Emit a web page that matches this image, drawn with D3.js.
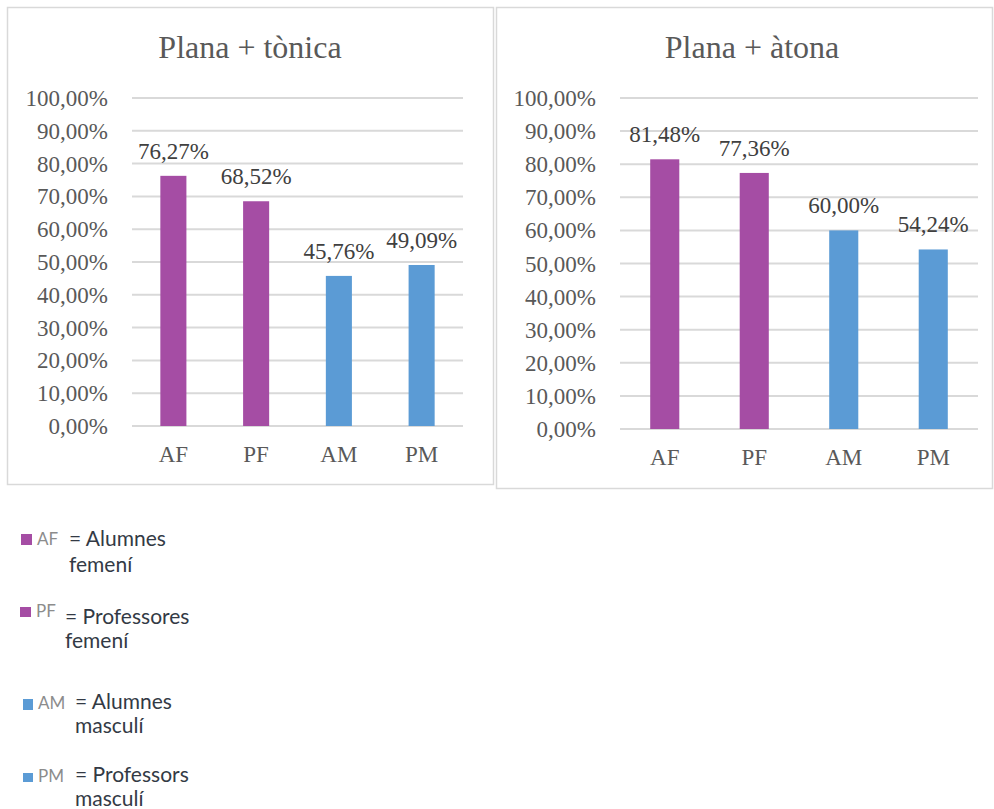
<!DOCTYPE html>
<html>
<head>
<meta charset="utf-8">
<script src="https://cdn.jsdelivr.net/npm/d3@7"></script>
<style>
  html, body { margin: 0; padding: 0; background: #ffffff; }
  svg { display: block; }
</style>
</head>
<body>
<svg id="chart" width="994" height="809"></svg>
<script>
// ---- Data ----
const categories = ["AF", "PF", "AM", "PM"];
const tonicaValues = [0.7627, 0.6852, 0.4576, 0.4909];
const atonaValues = [0.8148, 0.7736, 0.6000, 0.5424];
const panelTitles = ["Plana + tònica", "Plana + àtona"];
const yTicks = [0, 0.1, 0.2, 0.3, 0.4, 0.5, 0.6, 0.7, 0.8, 0.9, 1.0];
const legendCodes = ["AF", "PF", "AM", "PM"];
const legendLine1 = ["= Alumnes", "= Professores", "= Alumnes", "= Professors"];
const legendLine2 = ["femení", "femení", "masculí", "masculí"];

// ---- Styles ----
const colorFor = { AF: "#A54DA4", PF: "#A54DA4", AM: "#5B9BD5", PM: "#5B9BD5" };
const SERIF = "Liberation Serif";
const SANS = "Lato";
const locale = d3.formatLocale({ decimal: ",", thousands: ".", grouping: [3], currency: ["", "€"], percent: "%" });
const pct = locale.format(".2%");

const svg = d3.select("#chart");

function drawPanel(cfg, title, values) {
  const g = svg.append("g");
  g.append("rect")
    .attr("x", cfg.bx).attr("y", cfg.by).attr("width", cfg.bw).attr("height", cfg.bh)
    .attr("fill", "#fff").attr("stroke", "#D9D9D9").attr("stroke-width", 1.5);

  const x = d3.scaleBand().domain(categories).range([cfg.x0, cfg.x1]).paddingInner(cfg.pad).paddingOuter(cfg.pad / 2);
  const y = d3.scaleLinear().domain([0, 1]).range([cfg.y0, cfg.y1]);

  // gridlines
  g.append("g").selectAll("line").data(yTicks).join("line")
    .attr("x1", cfg.x0).attr("x2", cfg.x1)
    .attr("y1", d => y(d)).attr("y2", d => y(d))
    .attr("stroke", "#D9D9D9").attr("stroke-width", 2);

  // y axis
  const yAxis = d3.axisLeft(y).tickValues(yTicks).tickFormat(pct).tickSize(0).tickPadding(24);
  const ya = g.append("g").attr("transform", `translate(${cfg.x0},0)`).call(yAxis)
    .attr("font-family", null).attr("font-size", null);
  ya.select(".domain").remove();
  ya.selectAll("text").style("font-family", SERIF).style("font-size", "23px").attr("fill", "#595959").attr("dy", "0.33em");

  // x axis
  const xAxis = d3.axisBottom(x).tickSize(0).tickPadding(0);
  const xa = g.append("g").attr("transform", `translate(0,${cfg.y0})`).call(xAxis)
    .attr("font-family", null).attr("font-size", null);
  xa.select(".domain").remove();
  xa.selectAll("text").style("font-family", SERIF).style("font-size", "23px").attr("fill", "#595959")
    .attr("dy", null).attr("y", cfg.catY);

  // bars
  g.append("g").selectAll("rect").data(values).join("rect")
    .attr("x", (d, i) => x(categories[i]))
    .attr("width", x.bandwidth())
    .attr("y", d => y(d))
    .attr("height", d => y(0) - y(d))
    .attr("fill", (d, i) => colorFor[categories[i]]);

  // value labels
  g.append("g").selectAll("text").data(values).join("text")
    .attr("x", (d, i) => x(categories[i]) + x.bandwidth() / 2)
    .attr("y", d => y(d) - 17)
    .attr("text-anchor", "middle")
    .style("font-family", SERIF).style("font-size", "23px").attr("fill", "#404040")
    .text(d => pct(d));

  // title
  g.append("text")
    .attr("x", cfg.tx).attr("y", 58)
    .attr("text-anchor", "middle")
    .style("font-family", SERIF).style("font-size", "32px").attr("fill", "#595959")
    .text(title);
}

drawPanel({ bx: 7.5, by: 7.5, bw: 486, bh: 477, x0: 132, x1: 463, y0: 426, y1: 98, pad: 0.685, catY: 36, tx: 250 },
  panelTitles[0], tonicaValues);
drawPanel({ bx: 496.5, by: 7.5, bw: 496, bh: 481, x0: 620, x1: 978, y0: 429, y1: 98, pad: 0.675, catY: 36, tx: 752 },
  panelTitles[1], atonaValues);

// ---- Legend ----
const legPos = [
  { sx: 21, sy: 534, sw: 11, sh: 11, cx: 37, cy: 545, tx: 69, t1: 546, t2: 572 },
  { sx: 20, sy: 607, sw: 11, sh: 10, cx: 36, cy: 617, tx: 65, t1: 624, t2: 648 },
  { sx: 23, sy: 699, sw: 10, sh: 11, cx: 38, cy: 709, tx: 75, t1: 709, t2: 733 },
  { sx: 23, sy: 773, sw: 10, sh: 9, cx: 38, cy: 782, tx: 75, t1: 782, t2: 806 }
];
const leg = svg.append("g");
legendCodes.forEach((code, i) => {
  const p = legPos[i];
  leg.append("rect").attr("x", p.sx).attr("y", p.sy).attr("width", p.sw).attr("height", p.sh).attr("fill", colorFor[code]);
  leg.append("text").attr("x", p.cx).attr("y", p.cy).style("font-family", SANS).style("font-size", "17px")
    .attr("fill", "#8C8C8C").text(code);
  leg.append("text").attr("x", p.tx).attr("y", p.t1).style("font-family", SANS).style("font-size", "21px")
    .attr("fill", "#333A45").text(legendLine1[i]);
  leg.append("text").attr("x", p.tx).attr("y", p.t2).style("font-family", SANS).style("font-size", "21px")
    .attr("fill", "#333A45").text(legendLine2[i]);
});
</script>
</body>
</html>
